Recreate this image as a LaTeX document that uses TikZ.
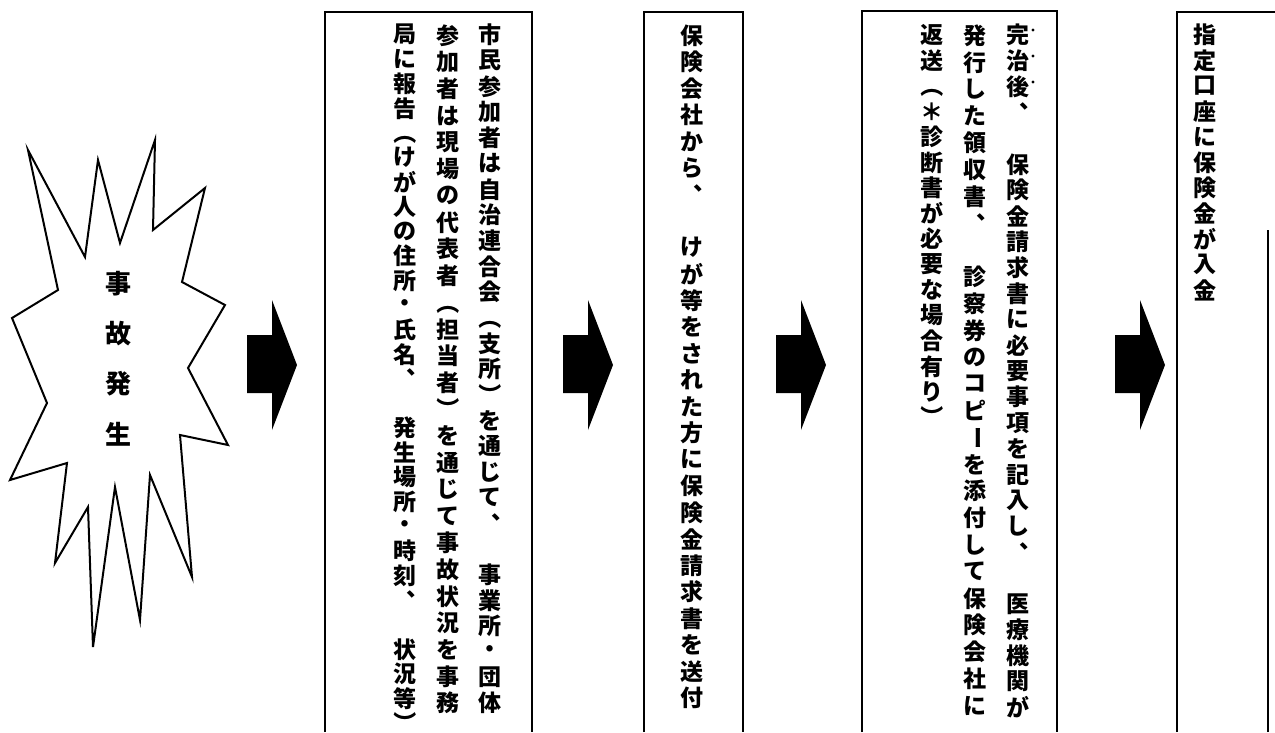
\documentclass[tikz,border=0pt]{standalone}
\usepackage{fontspec}
\usepackage{graphicx}
\usepackage{tikz}
\usetikzlibrary{positioning,calc}
\newfontfamily\jpfont{Noto Sans CJK JP}

% vertical column: one character per cell, cell height = optional pitch
\makeatletter
\newcommand\tate[2][25.7pt]{%
  \vtop{\offinterlineskip\@tfor\tate@c:=#2\do{%
    \hbox to 1em{\hss\vbox to #1{\vss\hbox{\tate@c}\vss}\hss}}}}
\makeatother
% vertical forms of brackets, comma and long mark
\newcommand\vlp{\rotatebox[origin=c]{-90}{（}}
\newcommand\vrp{\rotatebox[origin=c]{-90}{）}}
\newcommand\vbar{\rotatebox[origin=c]{-90}{ー}}
\newcommand\vcm{\hbox to 1em{\hskip0.55em\rlap{\raisebox{0.6em}{、}}\hss}}

\tikzset{
  boxline/.style={line width=2.5pt},
  coltext/.style={font=\jpfont\bfseries\fontsize{23}{23}\selectfont, anchor=north, inner sep=0pt},
  bursttext/.style={font=\jpfont\bfseries\fontsize{26}{26}\selectfont, inner sep=0pt}
}

\begin{document}
\begin{tikzpicture}[x=1pt,y=-1pt]
\useasboundingbox (0,0) rectangle (1275,732);
% Burst
\draw[line width=2pt, line join=miter, fill=white]
  (58,290) -- (12,318) -- (47,403) -- (10,480) -- (67,463) -- (55,563)
  -- (88,507) -- (93,647) -- (115,487) -- (140,620) -- (150,475)
  -- (192,577) -- (180,435) -- (228,445) -- (188,368) -- (225,305)
  -- (182,282) -- (205,188) -- (153,230) -- (155,140) -- (120,243)
  -- (98,160) -- (85,257) -- (28,150) -- cycle;
\node[bursttext] (accident) at (118,359) {\tate[50pt]{事故発生}};

% Block arrows
\foreach \ax in {247,563,776,1115}
  \fill (\ax,335) -- (\ax+25,335) -- (\ax+25,300) -- (\ax+50,365)
    -- (\ax+25,430) -- (\ax+25,393) -- (\ax,393) -- cycle;

% Boxes, open at the bottom
\draw[boxline] (325,732) -- (325,12) -- (532,12) -- (532,732);
\draw[boxline] (644,732) -- (644,12) -- (743,12) -- (743,732);
\draw[boxline] (862,732) -- (862,11) -- (1057,11) -- (1057,732);
\draw[boxline] (1177,732) -- (1177,12) -- (1275,12);
\draw[boxline] (1268,732) -- (1268,230);

% Box 1
\node[coltext] (report1) at (490,22) {\tate[25.7pt]{市民参加者は自治連合会\vlp 支所\vrp を通じて\vcm　事業所・団体}};
\node[coltext] (report2) at (448,22) {\tate[26.7pt]{参加者は現場の代表者\vlp 担当者\vrp を通じて事故状況を事務}};
\node[coltext] (report3) at (405,22) {\tate[24.6pt]{局に報告\vlp けが人の住所・氏名\vcm　発生場所・時刻\vcm　状況等\vrp}};
% Box 2
\node[coltext] (claim) at (692,22) {\tate[26.5pt]{保険会社から\vcm　けが等をされた方に保険金請求書を送付}};
% Box 3
\node[coltext] (return1) at (1018,22) {\tate[25.85pt]{完治後\vcm　保険金請求書に必要事項を記入し\vcm　医療機関が}};
\node[coltext] (return2) at (975,22) {\tate[26.8pt]{発行した領収書\vcm　診察券のコピ\vbar を添付して保険会社に}};
\node[coltext] (return3) at (932,22) {\tate[25.5pt]{返送\vlp ＊診断書が必要な場合有り\vrp}};
% Box 4
\node[coltext] (payment) at (1205,22) {\tate[25.5pt]{指定口座に保険金が入金}};

% Emphasis dots
\foreach \dy in {30,56,82}
  \fill (1033,\dy) circle (1.6pt);
\end{tikzpicture}
\end{document}
